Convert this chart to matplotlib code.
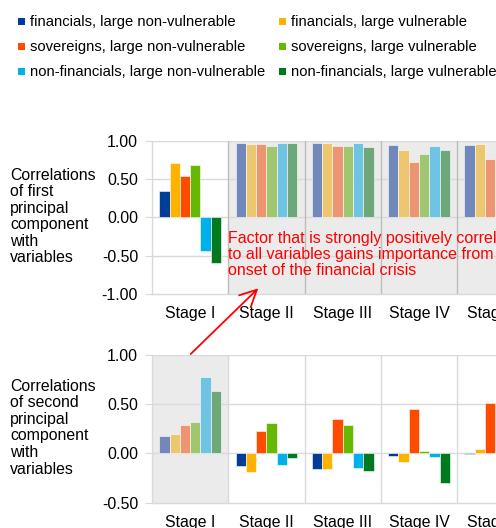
import numpy as np
import matplotlib
matplotlib.use("Agg")
import matplotlib.pyplot as plt
from matplotlib.patches import Rectangle, FancyArrowPatch

plt.rcParams['font.family'] = ['Liberation Sans', 'DejaVu Sans']

stages = ["Stage I", "Stage II", "Stage III", "Stage IV", "Stage V"]
series = [
    "financials, large non-vulnerable",
    "financials, large vulnerable",
    "sovereigns, large non-vulnerable",
    "sovereigns, large vulnerable",
    "non-financials, large non-vulnerable",
    "non-financials, large vulnerable",
]

# Correlations of the first principal component with each variable, by stage
pc1_fin_nv = [0.34, 0.98, 0.97, 0.95, 0.95]
pc1_fin_v = [0.71, 0.96, 0.97, 0.88, 0.96]
pc1_sov_nv = [0.54, 0.96, 0.93, 0.73, 0.77]
pc1_sov_v = [0.69, 0.94, 0.94, 0.83, 0.86]
pc1_nfc_nv = [-0.44, 0.98, 0.97, 0.94, 0.94]
pc1_nfc_v = [-0.59, 0.97, 0.92, 0.88, 0.90]

# Correlations of the second principal component with each variable, by stage
pc2_fin_nv = [0.18, -0.13, -0.155, -0.025, -0.01]
pc2_fin_v = [0.20, -0.19, -0.16, -0.09, 0.04]
pc2_sov_nv = [0.285, 0.225, 0.35, 0.445, 0.51]
pc2_sov_v = [0.32, 0.305, 0.285, 0.025, 0.05]
pc2_nfc_nv = [0.77, -0.12, -0.145, -0.04, -0.05]
pc2_nfc_v = [0.635, -0.05, -0.175, -0.305, -0.25]

pc1 = [pc1_fin_nv, pc1_fin_v, pc1_sov_nv, pc1_sov_v, pc1_nfc_nv, pc1_nfc_v]
pc2 = [pc2_fin_nv, pc2_fin_v, pc2_sov_nv, pc2_sov_v, pc2_nfc_nv, pc2_nfc_v]

pc1_ticks = [1.0, 0.5, 0.0, -0.5, -1.0]
pc2_ticks = [1.0, 0.5, 0.0, -0.5]

strong = ['#003d96', '#ffb300', '#ff4b00', '#66b800', '#00b0eb', '#007a1e']
faded = ['#7089ba', '#edc670', '#ec9573', '#a0c76f', '#70c4e3', '#6ea87a']

W, H = 496, 528
fig = plt.figure(figsize=(W / 100, H / 100), dpi=100)


def px_rect(left, top, right, bottom):
    return [left / W, 1 - bottom / H, (right - left) / W, (bottom - top) / H]


STAGE_W = 76.3
ax1 = fig.add_axes(px_rect(152, 141, 152 + 5 * STAGE_W, 294))
ax2 = fig.add_axes(px_rect(152, 354.7, 152 + 5 * STAGE_W, 502.7))

GRID = '#d9d9d9'
BAR_W = 0.135


def panel(ax, data, shade, ticks, sep_color):
    n = len(stages)
    ax.set_xlim(0, n)
    ax.set_ylim(min(ticks), max(ticks))
    ax.axvspan(shade[0], shade[1], color='#ebebeb', lw=0, zorder=0)
    for t in ticks[:-1]:
        ax.axhline(t, color=GRID, lw=1, zorder=1)
    for k in range(1, n):
        ax.axvline(k, color=sep_color, lw=1, zorder=1)
    x = np.arange(n) + 0.5
    for i, vals in enumerate(data):
        cols = [faded[i] if shade[0] <= xc <= shade[1] else strong[i] for xc in x]
        ax.bar(x + (i - 2.5) * BAR_W, vals, width=BAR_W, color=cols,
               edgecolor='white', linewidth=0.4, zorder=2)
    for s in ['top', 'right']:
        ax.spines[s].set_visible(False)
    for s in ['left', 'bottom']:
        ax.spines[s].set_color(GRID)
        ax.spines[s].set_linewidth(1)
    ax.set_yticks(ticks)
    ax.set_yticklabels([f"{t:.2f}" for t in ticks])
    ax.set_xticks(x)
    ax.set_xticklabels(stages)
    ax.tick_params(axis='y', length=5, color=GRID, labelsize=11.4, pad=5)
    ax.tick_params(axis='x', length=0, labelsize=11.4, pad=8.5)
    ax.set_facecolor('none')


panel(ax1, pc1, (1, 5), pc1_ticks, '#bdbdbd')
panel(ax2, pc2, (0, 1), pc2_ticks, GRID)

# side captions
for ax, txt in [(ax1, "Correlations\nof first\nprincipal\ncomponent\nwith\nvariables"),
                (ax2, "Correlations\nof second\nprincipal\ncomponent\nwith\nvariables")]:
    b = ax.get_position()
    fig.text(10 / W, b.y0 + b.height / 2 + 1 / H, txt, ha='left', va='center',
             fontsize=11.4, linespacing=1.13)

# legend
rows = [21.7, 46.7, 71.7]
cols_x = [(18.3, 30), (279.3, 291)]
for i, name in enumerate(series):
    r, c = i // 2, i % 2
    mx, tx = cols_x[c]
    y = rows[r]
    fig.add_artist(Rectangle((mx / W, 1 - (y + 3.5) / H), 7 / W, 7 / H,
                             transform=fig.transFigure, color=strong[i], lw=0))
    fig.text(tx / W, 1 - y / H, name, ha='left', va='center', fontsize=10.6)

# callout
fig.text(227.7 / W, 1 - 231 / H,
         "Factor that is strongly positively correlated\n"
         "to all variables gains importance from the\n"
         "onset of the financial crisis",
         ha='left', va='top', color='#ff0000', fontsize=11.5, linespacing=1.1,
         zorder=10)
fig.add_artist(FancyArrowPatch(posA=(190.7 / W, 1 - 354 / H),
                               posB=(258.3 / W, 1 - 288.3 / H),
                               transform=fig.transFigure,
                               arrowstyle='->,head_length=1.2,head_width=0.6',
                               mutation_scale=10, color='#ff0000', lw=1.3,
                               shrinkA=0, shrinkB=0, zorder=10))

fig.savefig("out.png", dpi=100)
